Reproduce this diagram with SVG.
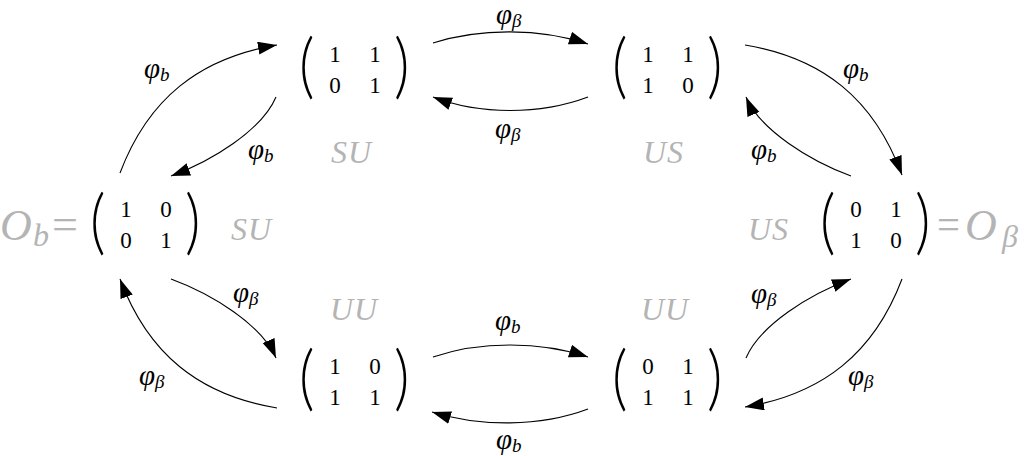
<svg xmlns="http://www.w3.org/2000/svg" width="1027" height="456" viewBox="0 0 1027 456">
<style>
.ent{font-family:"Liberation Serif",serif;font-size:23px;fill:#000;text-anchor:middle}
.par{font-family:Lato,"Liberation Sans",sans-serif;font-weight:300;font-size:40px;fill:#000}
.lab{font-family:"Liberation Serif",serif;font-style:italic;font-size:29px;fill:#000}
.sub{font-size:19px}
.gray{font-family:"Liberation Serif",serif;font-style:italic;font-size:32px;fill:#b4b4b4;letter-spacing:1px}
.big{font-family:"Liberation Serif",serif;font-size:44px;fill:#b4b4b4}
.conn path{fill:none;stroke:#000;stroke-width:1.1;marker-end:url(#ah)}
</style>
<defs>
<marker id="ah" markerUnits="userSpaceOnUse" markerWidth="22" markerHeight="16" refX="19" refY="6.5" orient="auto">
<path d="M0,0 L19,6.5 L0,13 Z" fill="#000"/>
</marker>
</defs>
<rect width="1027" height="456" fill="#fff"/>

<g id="M_L">
<text class="par" transform="translate(90,246) scale(1.5,1.75)">(</text>
<text class="par" transform="translate(185,246) scale(1.5,1.75)">)</text>
<text class="ent" x="126" y="217">1</text><text class="ent" x="166" y="217">0</text>
<text class="ent" x="126" y="248">0</text><text class="ent" x="166" y="248">1</text>
</g>
<g id="M_TL">
<text class="par" transform="translate(299,90) scale(1.5,1.75)">(</text>
<text class="par" transform="translate(394,90) scale(1.5,1.75)">)</text>
<text class="ent" x="335" y="62">1</text><text class="ent" x="375" y="62">1</text>
<text class="ent" x="335" y="93">0</text><text class="ent" x="375" y="93">1</text>
</g>
<g id="M_TR">
<text class="par" transform="translate(612,90) scale(1.5,1.75)">(</text>
<text class="par" transform="translate(707,90) scale(1.5,1.75)">)</text>
<text class="ent" x="648" y="62">1</text><text class="ent" x="688" y="62">1</text>
<text class="ent" x="648" y="93">1</text><text class="ent" x="688" y="93">0</text>
</g>
<g id="M_R">
<text class="par" transform="translate(820,246) scale(1.5,1.75)">(</text>
<text class="par" transform="translate(915,246) scale(1.5,1.75)">)</text>
<text class="ent" x="856" y="217">0</text><text class="ent" x="896" y="217">1</text>
<text class="ent" x="856" y="248">1</text><text class="ent" x="896" y="248">0</text>
</g>
<g id="M_BL">
<text class="par" transform="translate(299,402) scale(1.5,1.75)">(</text>
<text class="par" transform="translate(394,402) scale(1.5,1.75)">)</text>
<text class="ent" x="335" y="374">1</text><text class="ent" x="375" y="374">0</text>
<text class="ent" x="335" y="405">1</text><text class="ent" x="375" y="405">1</text>
</g>
<g id="M_BR">
<text class="par" transform="translate(612,402) scale(1.5,1.75)">(</text>
<text class="par" transform="translate(707,402) scale(1.5,1.75)">)</text>
<text class="ent" x="648" y="374">0</text><text class="ent" x="688" y="374">1</text>
<text class="ent" x="648" y="405">1</text><text class="ent" x="688" y="405">1</text>
</g>

<g id="labels_gray">
<text class="big" x="0" y="240" font-style="italic">O</text>
<text class="gray" x="33" y="246" font-size="27" letter-spacing="0">b</text>
<text class="big" x="52" y="239" textLength="26" lengthAdjust="spacingAndGlyphs">=</text>
<text class="big" x="937" y="239" textLength="23" lengthAdjust="spacingAndGlyphs">=</text>
<text class="big" x="965" y="240" font-style="italic">O</text>
<text class="gray" x="1002" y="247" font-size="26" letter-spacing="0">β</text>
<text class="gray" x="231" y="240">SU</text>
<text class="gray" x="748" y="240">US</text>
<text class="gray" x="331" y="163">SU</text>
<text class="gray" x="643" y="163">US</text>
<text class="gray" x="330" y="320">UU</text>
<text class="gray" x="641" y="320">UU</text>
</g>

<g id="connectors" class="conn">
<path d="M120,173 C148,99 199,58 277,45"/>
<path d="M276,97 C262,130 212,161 171,176"/>
<path d="M433,43 C480,28 540,28 588,44"/>
<path d="M588,97 C540,115 480,115 433,97"/>
<path d="M745,45 C823,58 874,99 902,175"/>
<path d="M851,176 C810,161 760,130 746,97"/>
<path d="M171,279 C212,294 262,325 276,358"/>
<path d="M277,408 C199,395 148,354 120,279"/>
<path d="M433,357 C480,341 540,341 588,357"/>
<path d="M588,409 C540,427 480,427 432,412"/>
<path d="M746,358 C760,325 810,294 851,279"/>
<path d="M902,279 C874,353 823,394 745,407"/>
</g>

<g id="labels_phi">
<text class="lab" x="144" y="78">φ<tspan class="sub" dy="3">b</tspan></text>
<text class="lab" x="248" y="159">φ<tspan class="sub" dy="3">b</tspan></text>
<text class="lab" x="496" y="24" font-size="26">φ<tspan class="sub" dy="3" font-size="18">β</tspan></text>
<text class="lab" x="495" y="138">φ<tspan class="sub" dy="3">β</tspan></text>
<text class="lab" x="843" y="78">φ<tspan class="sub" dy="3">b</tspan></text>
<text class="lab" x="751" y="159">φ<tspan class="sub" dy="3">b</tspan></text>
<text class="lab" x="233" y="302">φ<tspan class="sub" dy="3">β</tspan></text>
<text class="lab" x="139" y="385">φ<tspan class="sub" dy="3">β</tspan></text>
<text class="lab" x="495" y="330">φ<tspan class="sub" dy="3">b</tspan></text>
<text class="lab" x="496" y="449">φ<tspan class="sub" dy="3">b</tspan></text>
<text class="lab" x="751" y="303">φ<tspan class="sub" dy="3">β</tspan></text>
<text class="lab" x="848" y="385">φ<tspan class="sub" dy="3">β</tspan></text>
</g>
</svg>
